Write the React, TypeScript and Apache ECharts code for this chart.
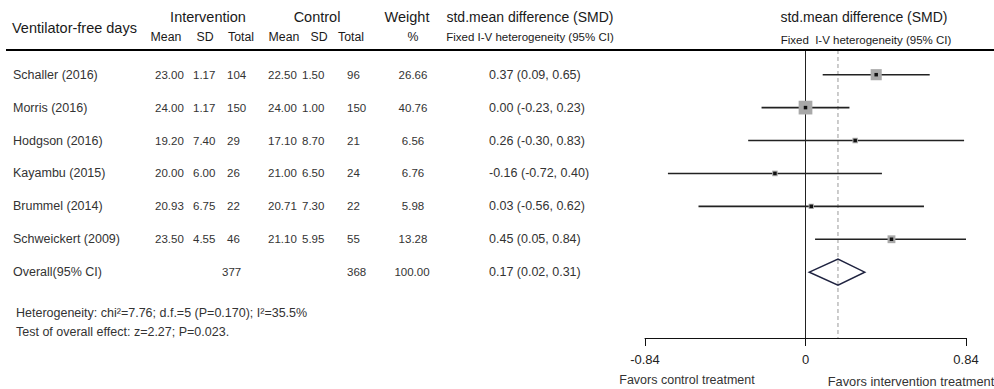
import React, { useEffect, useRef } from "react";
import * as echarts from "echarts";

const studies = ["Schaller (2016)", "Morris (2016)", "Hodgson (2016)", "Kayambu (2015)", "Brummel (2014)", "Schweickert (2009)"];
const intMean = ["23.00", "24.00", "19.20", "20.00", "20.93", "23.50"];
const intSD = ["1.17", "1.17", "7.40", "6.00", "6.75", "4.55"];
const intTotal = ["104", "150", "29", "26", "22", "46"];
const ctlMean = ["22.50", "24.00", "17.10", "21.00", "20.71", "21.10"];
const ctlSD = ["1.50", "1.00", "8.70", "6.50", "7.30", "5.95"];
const ctlTotal = ["96", "150", "21", "24", "22", "55"];
const weights = [26.66, 40.76, 6.56, 6.76, 5.98, 13.28];
const smd = [0.37, 0.0, 0.26, -0.16, 0.03, 0.45];
const ciLow = [0.09, -0.23, -0.3, -0.72, -0.56, 0.05];
const ciHigh = [0.65, 0.23, 0.83, 0.4, 0.62, 0.84];

const overallLabel = "Overall(95% CI)";
const overallIntTotal = "377";
const overallCtlTotal = "368";
const overallWeight = "100.00";
const overallSmd = 0.17;
const overallLow = 0.02;
const overallHigh = 0.31;

const xTickLabels = ["-0.84", "0", "0.84"];
const xMin = -0.84;
const xMax = 0.84;

const heterogeneityText = "Heterogeneity: chi\u00b2=7.76; d.f.=5 (P=0.170); I\u00b2=35.5%";
const overallEffectText = "Test of overall effect: z=2.27; P=0.023.";

const FONT = "'Liberation Sans', Arial, Helvetica, sans-serif";
const ROW_COLOR = "#333";
const HEAD_COLOR = "#1a1a1a";

const fmt = (v: number) => v.toFixed(2);

export default function App() {
  const ref = useRef<HTMLDivElement>(null);

  useEffect(() => {
    document.body.style.margin = "0";
    if (!ref.current) return;
    const chart = echarts.init(ref.current, null, { renderer: "svg" });

    const nRows = studies.length + 1;
    const tableRows = Array.from({ length: nRows }, (_, i) => [0, i]);

    const forestData = studies.map((_, i) => [smd[i], i, ciLow[i], ciHigh[i], weights[i]]);

    const txt = (x: number, y: number, text: string, size: number, align: string, color = ROW_COLOR) => ({
      type: "text",
      style: { x, y, text, font: `${size}px ${FONT}`, fill: color, align, verticalAlign: "middle" },
    });

    const H = 14.5;
    const SUB = 11.5;
    const COLSUB = 12.3;

    const option: any = {
      animation: false,
      grid: { left: 645, right: 28, top: 50, bottom: 51, containLabel: false },
      xAxis: {
        type: "value",
        position: "bottom",
        min: xMin,
        max: xMax,
        interval: 0.84,
        axisLine: { show: true, onZero: false, lineStyle: { color: "#111", width: 1 } },
        axisTick: { show: true, length: 8, lineStyle: { color: "#111", width: 1 } },
        splitLine: { show: false },
        axisLabel: {
          show: true,
          fontSize: 13,
          fontFamily: FONT,
          color: "#222",
          margin: 15,
          showMinLabel: true,
          showMaxLabel: true,
          formatter: (v: number) => {
            const idx = Math.round((v - xMin) / 0.84);
            return xTickLabels[idx] ?? "";
          },
        },
      },
      yAxis: {
        type: "value",
        inverse: true,
        min: -0.75,
        max: 8,
        show: false,
      },
      graphic: [
        { type: "rect", shape: { x: 6, y: 49, width: 988, height: 2 }, style: { fill: "#000" }, z: 100 },
        txt(12, 28, "Ventilator-free days", H, "left", HEAD_COLOR),
        txt(208, 17, "Intervention", H, "center", HEAD_COLOR),
        txt(317, 17, "Control", H, "center", HEAD_COLOR),
        txt(407, 17, "Weight", H, "center", HEAD_COLOR),
        txt(530, 17, "std.mean difference (SMD)", 14, "center", HEAD_COLOR),
        txt(864, 17, "std.mean difference (SMD)", 14, "center", HEAD_COLOR),
        txt(166, 37, "Mean", COLSUB, "center", HEAD_COLOR),
        txt(205, 37, "SD", COLSUB, "center", HEAD_COLOR),
        txt(241, 37, "Total", COLSUB, "center", HEAD_COLOR),
        txt(284, 37, "Mean", COLSUB, "center", HEAD_COLOR),
        txt(319, 37, "SD", COLSUB, "center", HEAD_COLOR),
        txt(351, 37, "Total", COLSUB, "center", HEAD_COLOR),
        txt(413, 37, "%", COLSUB, "center", HEAD_COLOR),
        txt(530, 37, "Fixed I-V heterogeneity (95% CI)", SUB, "center", HEAD_COLOR),
        txt(866, 40, "Fixed\u00a0 I-V heterogeneity (95% CI)", SUB, "center", HEAD_COLOR),
        txt(16, 313, heterogeneityText, 12.5, "left"),
        txt(16, 332, overallEffectText, 12.5, "left"),
        txt(687, 380, "Favors control treatment", 12.5, "center"),
        txt(911, 381, "Favors intervention treatment", 12.8, "center"),
      ],
      series: [
        {
          type: "custom",
          name: "table",
          silent: true,
          data: tableRows,
          renderItem: (_p: any, api: any) => {
            const i = api.value(1);
            const y = api.coord([0, i])[1];
            const isOverall = i === studies.length;
            const sz = 12.5;
            const nsz = 11.5;
            const csz = 12.5;
            const children: any[] = [];
            if (!isOverall) {
              children.push(txt(13, y, studies[i], sz, "left"));
              children.push(txt(155, y, intMean[i], nsz, "left"));
              children.push(txt(193, y, intSD[i], nsz, "left"));
              children.push(txt(227, y, intTotal[i], nsz, "left"));
              children.push(txt(268, y, ctlMean[i], nsz, "left"));
              children.push(txt(302, y, ctlSD[i], nsz, "left"));
              children.push(txt(347, y, ctlTotal[i], nsz, "left"));
              children.push(txt(413, y, fmt(weights[i]), nsz, "center"));
              children.push(txt(489, y, `${fmt(smd[i])} (${fmt(ciLow[i])}, ${fmt(ciHigh[i])})`, csz, "left"));
            } else {
              children.push(txt(13, y, overallLabel, sz, "left"));
              children.push(txt(222, y, overallIntTotal, nsz, "left"));
              children.push(txt(347, y, overallCtlTotal, nsz, "left"));
              children.push(txt(412, y, overallWeight, nsz, "center"));
              children.push(txt(489, y, `${fmt(overallSmd)} (${fmt(overallLow)}, ${fmt(overallHigh)})`, csz, "left"));
            }
            return { type: "group", children };
          },
        },
        {
          type: "custom",
          name: "refLines",
          silent: true,
          data: [[0, 0], [overallSmd, 1]],
          renderItem: (_p: any, api: any) => {
            const x = api.value(0);
            const kind = api.value(1);
            const top = api.coord([x, -0.75]);
            const bottom = api.coord([x, 8]);
            return {
              type: "line",
              shape: { x1: top[0], y1: top[1], x2: bottom[0], y2: bottom[1] },
              style:
                kind === 0
                  ? { stroke: "#222", lineWidth: 1 }
                  : { stroke: "#9a9a9a", lineWidth: 1, lineDash: [4, 3] },
            };
          },
        },
        {
          type: "custom",
          name: "studies",
          silent: true,
          data: forestData,
          encode: { x: 0, y: 1 },
          renderItem: (_p: any, api: any) => {
            const i = api.value(1);
            const c = api.coord([api.value(0), i]);
            const l = api.coord([api.value(2), i]);
            const h = api.coord([api.value(3), i]);
            const s = 2.15 * Math.sqrt(api.value(4));
            return {
              type: "group",
              children: [
                { type: "line", shape: { x1: l[0], y1: l[1], x2: h[0], y2: h[1] }, style: { stroke: "#222", lineWidth: 1.6 } },
                { type: "rect", shape: { x: c[0] - s / 2, y: c[1] - s / 2, width: s, height: s }, style: { fill: "#a9a9a9" } },
                { type: "rect", shape: { x: c[0] - 1.75, y: c[1] - 1.75, width: 3.5, height: 3.5 }, style: { fill: "#111" } },
              ],
            };
          },
        },
        {
          type: "custom",
          name: "overall",
          silent: true,
          data: [[overallSmd, studies.length, overallLow, overallHigh]],
          encode: { x: 0, y: 1 },
          renderItem: (_p: any, api: any) => {
            const i = api.value(1);
            const c = api.coord([api.value(0), i]);
            const l = api.coord([api.value(2), i]);
            const h = api.coord([api.value(3), i]);
            const hh = 13;
            return {
              type: "polygon",
              shape: { points: [[l[0], l[1]], [c[0], c[1] - hh], [h[0], h[1]], [c[0], c[1] + hh]] },
              style: { fill: "none", stroke: "#1f2340", lineWidth: 1.5 },
            };
          },
        },
      ],
    };

    chart.setOption(option);
    return () => chart.dispose();
  }, []);

  return <div ref={ref} style={{ width: 994, height: 389 }} />;
}
